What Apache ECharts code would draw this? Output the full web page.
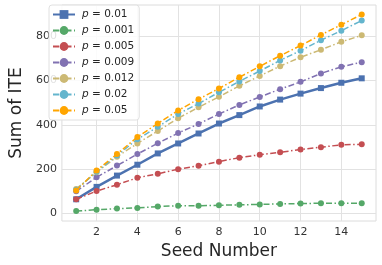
<!DOCTYPE html>
<html><head><meta charset="utf-8">
<script src="https://cdn.jsdelivr.net/npm/echarts@6/dist/echarts.min.js"></script>
<style>html,body{margin:0;padding:0;background:#fff}#c{width:382px;height:265px}</style>
</head><body><div id="c"></div>
<script>
const seeds = [1,2,3,4,5,6,7,8,9,10,11,12,13,14,15];
const pLabels = ['0.01','0.001','0.005','0.009','0.012','0.02','0.05'];
const s001  = [64,120,171,220,271,316,361,406,444,483,514,541,566,590,610];
const s0001 = [11,17,22,25,31,35,35,37,39,41,43,45,46,46,46];
const s0005 = [64,101,130,161,179,200,215,234,252,265,276,289,299,310,312];
const s0009 = [100,163,216,268,317,363,404,449,490,526,561,594,632,662,683];
const s0012 = [111,186,256,316,372,430,479,527,576,621,665,705,739,775,804];
const s002  = [107,188,262,335,391,449,496,547,596,643,691,735,782,825,871];
const s005  = [104,194,268,345,406,465,516,564,615,664,712,758,806,852,898];
const xTicks = [2,4,6,8,10,12,14];
const yTicks = [0,200,400,600,800];

const values = [s001,s0001,s0005,s0009,s0012,s002,s005];
const colors = ['#4C72B0','#55A868','#C44E52','#8172B2','#CCB974','#64B5CD','#FFA500'];
const dashdot = [6,2.5,1.5,2.5];

const series = values.map((v,i)=>({
  name: pLabels[i],
  type:'line',
  data: seeds.map((s,j)=>[s,v[j]]),
  symbol: i===0 ? 'rect' : 'circle',
  symbolSize: 6,
  lineStyle:{color:colors[i], width: i===0?2.5:1.5, type: i===0?'solid':dashdot},
  itemStyle:{color:colors[i]},
  z: 2+i,
  animation:false
}));

const chart = echarts.init(document.getElementById('c'));
chart.setOption({
  animation:false,
  textStyle:{fontFamily:'DejaVu Sans'},
  grid:{left:48,right:6,top:5,bottom:41,show:true,borderColor:'#dcdcdc',borderWidth:1},
  xAxis:{type:'value',min:0.3,max:15.7,
    name:'Seed Number',nameLocation:'middle',nameGap:22,
    nameTextStyle:{fontSize:17,color:'#262626',fontFamily:'DejaVu Sans'},
    axisLine:{show:false},
    axisTick:{show:false,customValues:xTicks},
    axisLabel:{customValues:xTicks,fontSize:11,color:'#333',margin:6},
    splitLine:{show:true,lineStyle:{color:'#e2e2e2',width:1}}},
  yAxis:{type:'value',min:-34,max:941,
    name:'Sum of ITE',nameLocation:'middle',nameGap:30,
    nameTextStyle:{fontSize:17,color:'#262626',fontFamily:'DejaVu Sans'},
    axisLine:{show:false},
    axisTick:{show:false,customValues:yTicks},
    axisLabel:{customValues:yTicks,fontSize:11,color:'#333',margin:5},
    splitLine:{show:true,lineStyle:{color:'#e2e2e2',width:1}}},
  legend:{orient:'vertical',left:49,top:5,
    backgroundColor:'rgba(255,255,255,0.85)',borderColor:'#e0e0e0',borderWidth:1,borderRadius:3,
    padding:[4,5,4,3],itemGap:5,itemWidth:22,itemHeight:11,
    data:pLabels,
    formatter: n=>'{i|p}{n| = '+n+'}',
    textStyle:{fontSize:10.5,color:'#262626',padding:[0,0,0,2],rich:{
      i:{fontStyle:'italic',fontSize:10.5,fontFamily:'DejaVu Sans',color:'#262626'},
      n:{fontSize:10.5,fontFamily:'DejaVu Sans',color:'#262626'}}}},
  series: series
});
</script></body></html>
